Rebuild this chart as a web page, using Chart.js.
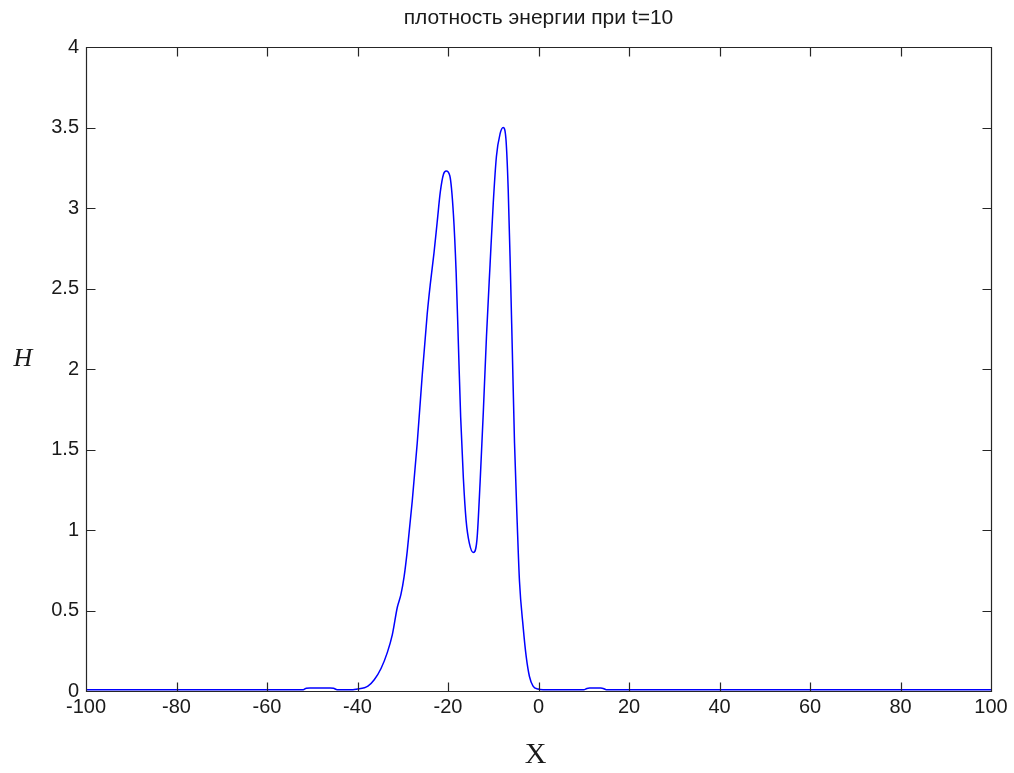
<!DOCTYPE html>
<html>
<head>
<meta charset="utf-8">
<script src="https://cdn.jsdelivr.net/npm/chart.js@4.4.1/dist/chart.umd.min.js"></script>
<style>
html,body{margin:0;padding:0;background:#fff;}
#wrap{position:relative;width:1014px;height:773px;}
</style>
</head>
<body>
<div id="wrap"><canvas id="c"></canvas></div>
<script>
const titleText = 'плотность энергии при t=10';
const xAxisTitle = 'X';
const yAxisTitle = 'H';
const xTicks = [-100, -80, -60, -40, -20, 0, 20, 40, 60, 80, 100];
const yTicks = [0, 0.5, 1, 1.5, 2, 2.5, 3, 3.5, 4];

const xValues = [
  -100, -60, -52, -51.3, -50.5, -46, -45.3, -44.5, -41, -40, -38.5, -37.7, -36.3, -34.8, -33.4, -32.3,
  -31.2, -30.4, -29.7, -29.0, -27.9, -26.8, -25.7, -24.6, -23.9, -23.1, -22.4,
  -21.7, -21.0, -20.4, -19.6, -18.8, -18.2, -17.7, -17.2, -16.6, -16.0, -15.3,
  -14.4, -13.6, -12.9, -12.2, -11.5, -10.7, -10.0, -9.3, -8.5, -7.8, -7.2,
  -6.7, -6.2, -5.8, -5.3, -4.7, -4.2, -3.4, -2.7, -2.0, -1.2, -0.1, 1, 10, 10.7,
  11.3, 13.8, 14.3, 15, 40, 100
];
const hValues = [
  0.008, 0.008, 0.008, 0.017, 0.018, 0.018, 0.017, 0.008, 0.008, 0.012, 0.02, 0.03, 0.07, 0.14, 0.24, 0.35,
  0.52, 0.60, 0.71, 0.87, 1.18, 1.54, 1.96, 2.34, 2.53, 2.72, 2.91,
  3.10, 3.21, 3.23, 3.20, 2.96, 2.60, 2.15, 1.70, 1.32, 1.06, 0.92,
  0.86, 0.94, 1.30, 1.73, 2.20, 2.65, 3.03, 3.32, 3.46, 3.50, 3.43,
  3.12, 2.60, 2.13, 1.54, 1.04, 0.68, 0.40, 0.21, 0.09, 0.03, 0.012, 0.008, 0.008, 0.016,
  0.018, 0.018, 0.016, 0.008, 0.008, 0.008
];

const points = xValues.map((x, i) => ({x: x, y: hValues[i]}));
const axisColor = '#262626';

const framePlugin = {
  id: 'frame',
  afterDraw(chart) {
    const ctx = chart.ctx;
    const a = chart.chartArea;
    const xs = chart.scales.x, ys = chart.scales.y;
    ctx.save();
    ctx.strokeStyle = axisColor;
    ctx.lineWidth = 1.2;
    const L = Math.round(a.left) + 0.5, R = Math.round(a.right) + 0.5;
    const T = Math.round(a.top) + 0.5, B = Math.round(a.bottom) + 0.5;
    ctx.beginPath();
    ctx.moveTo(L, T); ctx.lineTo(R, T); ctx.lineTo(R, B); ctx.lineTo(L, B); ctx.closePath();
    const tl = 9;
    xTicks.forEach(v => {
      const px = Math.round(xs.getPixelForValue(v)) + 0.5;
      ctx.moveTo(px, B); ctx.lineTo(px, B - tl);
      ctx.moveTo(px, T); ctx.lineTo(px, T + tl);
    });
    yTicks.forEach(v => {
      const py = Math.round(ys.getPixelForValue(v)) + 0.5;
      ctx.moveTo(L, py); ctx.lineTo(L + tl, py);
      ctx.moveTo(R, py); ctx.lineTo(R - tl, py);
    });
    ctx.stroke();

    ctx.fillStyle = '#1a1a1a';
    ctx.textAlign = 'center';
    ctx.textBaseline = 'middle';
    ctx.font = '21px "Liberation Sans", Arial, sans-serif';
    ctx.fillText(titleText, (a.left + a.right) / 2, 18);
    ctx.font = '30px "Liberation Serif", "Times New Roman", serif';
    ctx.fillText(xAxisTitle, (a.left + a.right) / 2 - 3, 755);
    ctx.font = 'italic 26px "Liberation Serif", "Times New Roman", serif';
    ctx.fillText(yAxisTitle, 23, 359);
    ctx.restore();
  }
};

new Chart(document.getElementById('c'), {
  type: 'line',
  data: {
    datasets: [{
      data: points,
      borderColor: '#0000ff',
      borderWidth: 1.5,
      pointRadius: 0,
      fill: false,
      cubicInterpolationMode: 'monotone'
    }]
  },
  options: {
    responsive: true,
    maintainAspectRatio: false,
    animation: false,
    layout: {padding: {top: 47, right: 23, bottom: 0, left: 0}},
    plugins: {legend: {display: false}, title: {display: false}, tooltip: {enabled: false}},
    scales: {
      x: {
        type: 'linear', min: -100, max: 100,
        afterBuildTicks: s => { s.ticks = xTicks.map(v => ({value: v})); },
        afterFit: s => { s.height = 82; },
        grid: {display: false, drawTicks: false},
        border: {display: false},
        ticks: {
          padding: 4, color: '#1a1a1a', maxRotation: 0, autoSkip: false,
          font: {family: '"Liberation Sans", Arial, sans-serif', size: 20},
          callback: v => String(v)
        }
      },
      y: {
        type: 'linear', min: 0, max: 4,
        afterBuildTicks: s => { s.ticks = yTicks.map(v => ({value: v})); },
        afterFit: s => { s.width = 86; },
        grid: {display: false, drawTicks: false},
        border: {display: false},
        ticks: {
          padding: 7, color: '#1a1a1a', autoSkip: false,
          font: {family: '"Liberation Sans", Arial, sans-serif', size: 20},
          callback: v => String(v)
        }
      }
    }
  },
  plugins: [framePlugin]
});
</script>
</body>
</html>
